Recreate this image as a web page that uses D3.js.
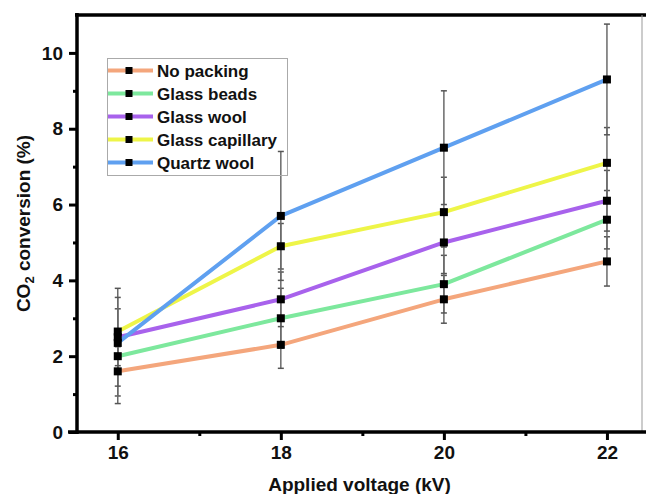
<!DOCTYPE html>
<html>
<head>
<meta charset="utf-8">
<script src="https://cdn.jsdelivr.net/npm/d3@7"></script>
<style>
  html, body { margin: 0; padding: 0; background: #fff; }
  svg { display: block; }
  text { font-family: "Liberation Sans", Arial, sans-serif; font-weight: bold; fill: #111; }
</style>
</head>
<body>
<svg id="chart" width="646" height="494"></svg>
<script>
// ---- data ----
const voltages = [16, 18, 20, 22];
const seriesNames = ["No packing", "Glass beads", "Glass wool", "Glass capillary", "Quartz wool"];
const seriesColors = ["#f4a67c", "#7de89d", "#a862ec", "#eef548", "#5fa0f0"];
const noPacking      = [1.6, 2.3, 3.5, 4.5];
const glassBeads     = [2.0, 3.0, 3.9, 5.6];
const glassWool      = [2.5, 3.5, 5.0, 6.1];
const glassCapillary = [2.65, 4.9, 5.8, 7.1];
const quartzWool     = [2.35, 5.7, 7.5, 9.3];
const errNoPacking      = [0.65, 0.62, 0.63, 0.65];
const errGlassBeads     = [1.25, 0.79, 0.76, 0.77];
const errGlassWool      = [1.29, 0.72, 0.82, 0.8];
const errGlassCapillary = [0.9, 0.6, 0.92, 0.93];
const errQuartzWool     = [0.3, 1.7, 1.5, 1.46];
const yTicks = [0, 2, 4, 6, 8, 10];
const yMinorTicks = [1, 3, 5, 7, 9];
const xTicks = [16, 18, 20, 22];
const xMinorTicks = [17, 19, 21];

const values = [noPacking, glassBeads, glassWool, glassCapillary, quartzWool];
const errors = [errNoPacking, errGlassBeads, errGlassWool, errGlassCapillary, errQuartzWool];

const svg = d3.select("#chart");
const pL = 77, pR = 642, pT = 15, pB = 432;

const x = d3.scaleLinear().domain([15.5, 22.43]).range([pL, pR]);
const y = d3.scaleLinear().domain([0, 11]).range([pB, pT]);

// frame: top thick, right thin gray
svg.append("line").attr("x1", pL - 2).attr("x2", 646).attr("y1", pT).attr("y2", pT)
  .attr("stroke", "#000").attr("stroke-width", 3.5);
svg.append("line").attr("x1", pR).attr("x2", pR).attr("y1", pT).attr("y2", pB)
  .attr("stroke", "#999").attr("stroke-width", 1);

const fontSet = sel => sel.style("font-size", "19px").style("font-family", "'Liberation Sans', Arial, sans-serif")
  .style("font-weight", "bold").attr("fill", "#111");

// axes
const yAxis = d3.axisLeft(y).tickValues(yTicks).tickSize(8).tickPadding(6).tickFormat(d3.format("d"));
const gy = svg.append("g").attr("transform", `translate(${pL},0)`).call(yAxis);
gy.select(".domain").attr("stroke", "#000").attr("stroke-width", 3.5).attr("d", `M0,${pB + 2}V${pT - 2}`);
gy.selectAll(".tick line").attr("stroke", "#000").attr("stroke-width", 3);
fontSet(gy.selectAll(".tick text"));

const gyMinor = svg.append("g").attr("transform", `translate(${pL},0)`)
  .call(d3.axisLeft(y).tickValues(yMinorTicks).tickSize(4).tickFormat(""));
gyMinor.select(".domain").remove();
gyMinor.selectAll(".tick line").attr("stroke", "#000").attr("stroke-width", 3);

const xAxis = d3.axisBottom(x).tickValues(xTicks).tickSize(8).tickPadding(6).tickFormat(d3.format("d"));
const gx = svg.append("g").attr("transform", `translate(0,${pB})`).call(xAxis);
gx.select(".domain").attr("stroke", "#000").attr("stroke-width", 3.5).attr("d", `M${pL - 9},0H646`);
gx.selectAll(".tick line").attr("stroke", "#000").attr("stroke-width", 3);
fontSet(gx.selectAll(".tick text"));

const gxMinor = svg.append("g").attr("transform", `translate(0,${pB})`)
  .call(d3.axisBottom(x).tickValues(xMinorTicks).tickSize(4).tickFormat(""));
gxMinor.select(".domain").remove();
gxMinor.selectAll(".tick line").attr("stroke", "#000").attr("stroke-width", 3);

// axis titles
svg.append("text").attr("x", (pL + pR) / 2).attr("y", 491)
  .attr("text-anchor", "middle").style("font-size", "19px").text("Applied voltage (kV)");

const yt = svg.append("text").attr("transform", `translate(30,${(pT + pB) / 2}) rotate(-90)`)
  .attr("text-anchor", "middle").style("font-size", "19px");
yt.append("tspan").text("CO");
yt.append("tspan").attr("baseline-shift", "-30%").style("font-size", "13px").text("2");
yt.append("tspan").text(" conversion (%)");

// error bars
const capW = 3;
values.forEach((vals, si) => {
  const g = svg.append("g").attr("class", "err");
  vals.forEach((v, i) => {
    const e = errors[si][i];
    const cx = x(voltages[i]);
    g.append("line").attr("x1", cx).attr("x2", cx).attr("y1", y(v + e)).attr("y2", y(v - e))
      .attr("stroke", "#6a6a6a").attr("stroke-width", 1.5);
    [v + e, v - e].forEach(t => {
      g.append("line").attr("x1", cx - capW).attr("x2", cx + capW).attr("y1", y(t)).attr("y2", y(t))
        .attr("stroke", "#555").attr("stroke-width", 1.5);
    });
  });
});

// lines
const line = d3.line().x((d, i) => x(voltages[i])).y(d => y(d));
values.forEach((vals, si) => {
  svg.append("path").datum(vals).attr("d", line).attr("fill", "none")
    .attr("stroke", seriesColors[si]).attr("stroke-width", 4).attr("stroke-linejoin", "round");
});

// markers
const ms = 8;
values.forEach((vals, si) => {
  svg.append("g").selectAll("rect").data(vals).join("rect")
    .attr("x", (d, i) => x(voltages[i]) - ms / 2).attr("y", d => y(d) - ms / 2)
    .attr("width", ms).attr("height", ms).attr("fill", "#000");
});

// legend
const lg = svg.append("g");
lg.append("rect").attr("x", 107.5).attr("y", 58.5).attr("width", 180).attr("height", 117)
  .attr("fill", "none").attr("stroke", "#aaa").attr("stroke-width", 1);
seriesNames.forEach((name, i) => {
  const cy = 70.5 + i * 23;
  lg.append("line").attr("x1", 108).attr("x2", 153).attr("y1", cy).attr("y2", cy)
    .attr("stroke", seriesColors[i]).attr("stroke-width", 4);
  lg.append("rect").attr("x", 129 - 3.5).attr("y", cy - 3.5).attr("width", 7).attr("height", 7).attr("fill", "#000");
  lg.append("text").attr("x", 157).attr("y", cy).attr("dy", "0.36em").style("font-size", "17px").text(name);
});
</script>
</body>
</html>
